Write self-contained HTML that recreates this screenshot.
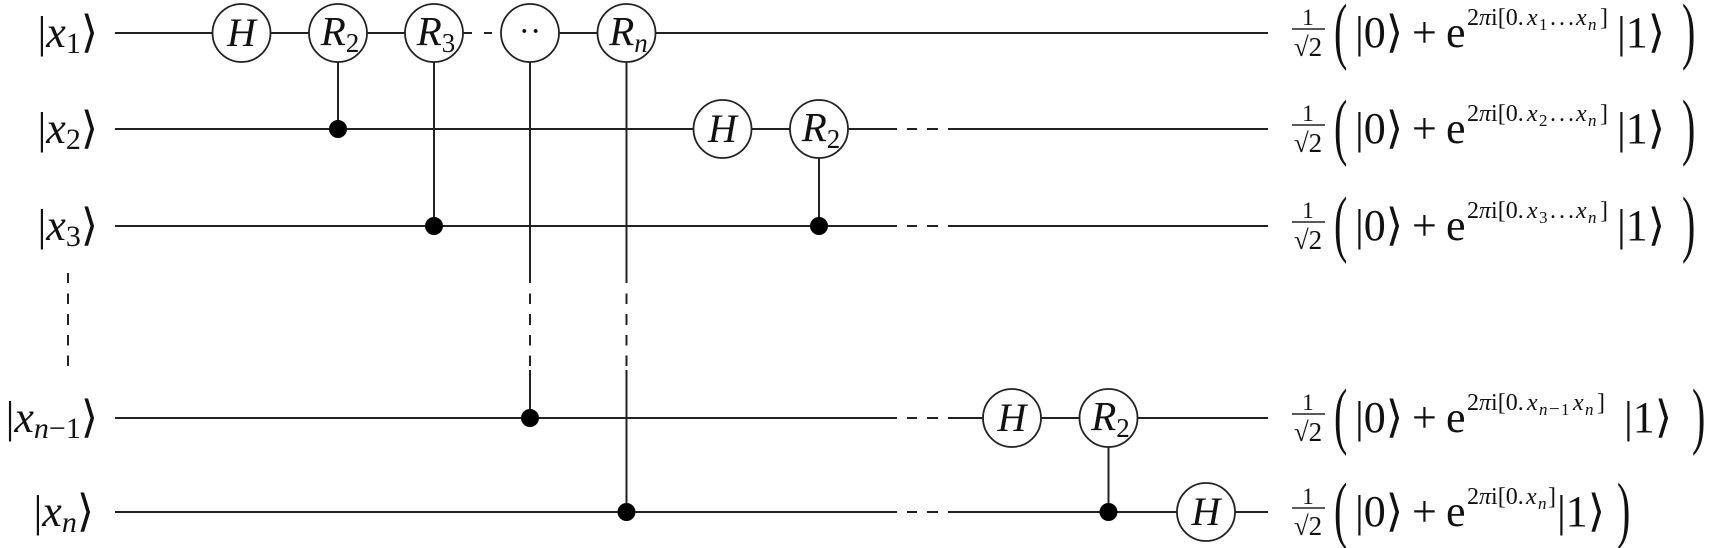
<!DOCTYPE html>
<html>
<head>
<meta charset="utf-8">
<style>
  html,body{margin:0;padding:0;background:#fff;}
  svg{display:block;}
  text{font-family:"Liberation Serif","DejaVu Serif",serif;fill:#111;}
  .ang{font-family:"DejaVu Sans","DejaVu Serif",serif;}
  .it{font-style:italic;}
</style>
</head>
<body>
<svg width="1724" height="548" viewBox="0 0 1724 548" xmlns="http://www.w3.org/2000/svg">
  <g stroke="#222" stroke-width="2" fill="none">
    <!-- row 1 wire -->
    <line x1="115" y1="33" x2="472" y2="33"/>
    <line x1="484" y1="33" x2="492" y2="33"/>
    <line x1="501" y1="33" x2="1268" y2="33"/>
    <!-- rows 2,3,n-1,n wires with dashed gap -->
    <line x1="115" y1="129" x2="897" y2="129"/><line x1="907" y1="129" x2="917" y2="129"/><line x1="927" y1="129" x2="938" y2="129"/><line x1="948" y1="129" x2="1268" y2="129"/>
    <line x1="115" y1="226" x2="897" y2="226"/><line x1="907" y1="226" x2="917" y2="226"/><line x1="927" y1="226" x2="938" y2="226"/><line x1="948" y1="226" x2="1268" y2="226"/>
    <line x1="115" y1="418" x2="897" y2="418"/><line x1="907" y1="418" x2="917" y2="418"/><line x1="927" y1="418" x2="938" y2="418"/><line x1="948" y1="418" x2="1268" y2="418"/>
    <line x1="115" y1="512" x2="897" y2="512"/><line x1="907" y1="512" x2="917" y2="512"/><line x1="927" y1="512" x2="938" y2="512"/><line x1="948" y1="512" x2="1268" y2="512"/>

    <!-- vertical control lines -->
    <line x1="338" y1="33" x2="338" y2="129"/>
    <line x1="434" y1="33" x2="434" y2="226"/>
    <line x1="819" y1="129" x2="819" y2="226"/>
    <line x1="1108.5" y1="418" x2="1108.5" y2="512"/>
    <!-- c3 (dots gate) -->
    <line x1="530" y1="33" x2="530" y2="283"/>
    <line x1="530" y1="293.5" x2="530" y2="304"/>
    <line x1="530" y1="314" x2="530" y2="325"/>
    <line x1="530" y1="335" x2="530" y2="345.5"/>
    <line x1="530" y1="355.5" x2="530" y2="366"/>
    <line x1="530" y1="370" x2="530" y2="418"/>
    <!-- c4 (Rn) -->
    <line x1="626.5" y1="33" x2="626.5" y2="283"/>
    <line x1="626.5" y1="293.5" x2="626.5" y2="304"/>
    <line x1="626.5" y1="314" x2="626.5" y2="325"/>
    <line x1="626.5" y1="335" x2="626.5" y2="345.5"/>
    <line x1="626.5" y1="355.5" x2="626.5" y2="366"/>
    <line x1="626.5" y1="370" x2="626.5" y2="512"/>
    <!-- left vertical dots -->
    <line x1="68" y1="273" x2="68" y2="283"/>
    <line x1="68" y1="293.5" x2="68" y2="304"/>
    <line x1="68" y1="314" x2="68" y2="325"/>
    <line x1="68" y1="335" x2="68" y2="345.5"/>
    <line x1="68" y1="355.5" x2="68" y2="366"/>

    <!-- output fraction bars -->
    <line x1="1292" y1="29" x2="1325" y2="29" stroke-width="1.4"/>
    <line x1="1292" y1="125" x2="1325" y2="125" stroke-width="1.4"/>
    <line x1="1292" y1="222" x2="1325" y2="222" stroke-width="1.4"/>
    <line x1="1292" y1="414" x2="1325" y2="414" stroke-width="1.4"/>
    <line x1="1292" y1="508" x2="1325" y2="508" stroke-width="1.4"/>
  </g>

  <!-- control dots -->
  <g fill="#000">
    <circle cx="338" cy="129" r="9"/>
    <circle cx="434" cy="226" r="9"/>
    <circle cx="530" cy="418" r="9"/>
    <circle cx="626.5" cy="512" r="9"/>
    <circle cx="819" cy="226" r="9"/>
    <circle cx="1108.5" cy="512" r="9"/>
  </g>

  <!-- gate circles -->
  <g fill="#fff" stroke="#222" stroke-width="1.8">
    <circle cx="241.5" cy="33" r="29"/>
    <circle cx="338" cy="33" r="29"/>
    <circle cx="434" cy="33" r="29"/>
    <circle cx="530" cy="33" r="29"/>
    <circle cx="626.5" cy="33" r="29"/>
    <circle cx="722.5" cy="129" r="29"/>
    <circle cx="819" cy="129" r="29"/>
    <circle cx="1012" cy="418" r="29"/>
    <circle cx="1108.5" cy="418" r="29"/>
    <circle cx="1206" cy="512" r="29"/>
  </g>

  <!-- gate labels -->
  <text x="241.5" y="46" font-size="40" text-anchor="middle" class="it">H</text>
  <text x="340" y="45" font-size="41" text-anchor="middle"><tspan class="it">R</tspan><tspan font-size="27" dy="7">2</tspan></text>
  <text x="436" y="45" font-size="41" text-anchor="middle"><tspan class="it">R</tspan><tspan font-size="27" dy="7">3</tspan></text>
  <text x="530" y="42" font-size="34" text-anchor="middle">··</text>
  <text x="628.5" y="45" font-size="41" text-anchor="middle"><tspan class="it">R</tspan><tspan font-size="27" dy="7" class="it">n</tspan></text>
  <text x="722.5" y="142" font-size="40" text-anchor="middle" class="it">H</text>
  <text x="821" y="141" font-size="41" text-anchor="middle"><tspan class="it">R</tspan><tspan font-size="27" dy="7">2</tspan></text>
  <text x="1012" y="431" font-size="40" text-anchor="middle" class="it">H</text>
  <text x="1110.5" y="430" font-size="41" text-anchor="middle"><tspan class="it">R</tspan><tspan font-size="27" dy="7">2</tspan></text>
  <text x="1206" y="525" font-size="40" text-anchor="middle" class="it">H</text>

  <!-- input kets -->
  <text x="98" y="47" font-size="44" text-anchor="end">|<tspan class="it">x</tspan><tspan font-size="30" dy="6">1</tspan><tspan dy="-6" class="ang">⟩</tspan></text>
  <text x="98" y="143" font-size="44" text-anchor="end">|<tspan class="it">x</tspan><tspan font-size="30" dy="6">2</tspan><tspan dy="-6" class="ang">⟩</tspan></text>
  <text x="98" y="240" font-size="44" text-anchor="end">|<tspan class="it">x</tspan><tspan font-size="30" dy="6">3</tspan><tspan dy="-6" class="ang">⟩</tspan></text>
  <text x="98" y="432" font-size="44" text-anchor="end">|<tspan class="it">x</tspan><tspan font-size="30" dy="6" class="it">n</tspan><tspan font-size="30">−</tspan><tspan font-size="30">1</tspan><tspan dy="-6" class="ang">⟩</tspan></text>
  <text x="94" y="526" font-size="44" text-anchor="end">|<tspan class="it">x</tspan><tspan font-size="30" dy="6" class="it">n</tspan><tspan dy="-6" class="ang">⟩</tspan></text>

  <!-- outputs: row 1 (Y=33) -->
  <g>
    <text x="1308" y="25" font-size="23" text-anchor="middle">1</text>
    <text x="1308" y="56" font-size="27" text-anchor="middle">√2</text>
    <text transform="translate(1334,55) scale(1,1.85)" font-size="40">(</text>
    <text x="1355" y="47" font-size="44">|0<tspan class="ang">⟩</tspan></text>
    <text x="1412" y="47" font-size="44">+</text>
    <text x="1446" y="47" font-size="44">e</text>
    <text x="1467" y="25" font-size="24">2<tspan class="it">π</tspan>i[0.</text>
    <text x="1527" y="25" font-size="24" class="it">x</text>
    <text x="1539" y="30" font-size="17">1</text>
    <text x="1550" y="25" font-size="24" letter-spacing="3">...</text>
    <text x="1576" y="25" font-size="24" class="it">x</text>
    <text x="1588" y="30" font-size="17" class="it">n</text>
    <text x="1600" y="25" font-size="24">]</text>
    <text x="1617" y="47" font-size="44">|1<tspan class="ang">⟩</tspan></text>
    <text transform="translate(1682,55) scale(1,1.85)" font-size="40">)</text>
  </g>
  <!-- row 2 (Y=129) -->
  <g>
    <text x="1308" y="121" font-size="23" text-anchor="middle">1</text>
    <text x="1308" y="152" font-size="27" text-anchor="middle">√2</text>
    <text transform="translate(1334,151) scale(1,1.85)" font-size="40">(</text>
    <text x="1355" y="143" font-size="44">|0<tspan class="ang">⟩</tspan></text>
    <text x="1412" y="143" font-size="44">+</text>
    <text x="1446" y="143" font-size="44">e</text>
    <text x="1467" y="121" font-size="24">2<tspan class="it">π</tspan>i[0.</text>
    <text x="1527" y="121" font-size="24" class="it">x</text>
    <text x="1539" y="126" font-size="17">2</text>
    <text x="1550" y="121" font-size="24" letter-spacing="3">...</text>
    <text x="1576" y="121" font-size="24" class="it">x</text>
    <text x="1588" y="126" font-size="17" class="it">n</text>
    <text x="1600" y="121" font-size="24">]</text>
    <text x="1617" y="143" font-size="44">|1<tspan class="ang">⟩</tspan></text>
    <text transform="translate(1682,151) scale(1,1.85)" font-size="40">)</text>
  </g>
  <!-- row 3 (Y=226) -->
  <g>
    <text x="1308" y="218" font-size="23" text-anchor="middle">1</text>
    <text x="1308" y="249" font-size="27" text-anchor="middle">√2</text>
    <text transform="translate(1334,248) scale(1,1.85)" font-size="40">(</text>
    <text x="1355" y="240" font-size="44">|0<tspan class="ang">⟩</tspan></text>
    <text x="1412" y="240" font-size="44">+</text>
    <text x="1446" y="240" font-size="44">e</text>
    <text x="1467" y="218" font-size="24">2<tspan class="it">π</tspan>i[0.</text>
    <text x="1527" y="218" font-size="24" class="it">x</text>
    <text x="1539" y="223" font-size="17">3</text>
    <text x="1550" y="218" font-size="24" letter-spacing="3">...</text>
    <text x="1576" y="218" font-size="24" class="it">x</text>
    <text x="1588" y="223" font-size="17" class="it">n</text>
    <text x="1600" y="218" font-size="24">]</text>
    <text x="1617" y="240" font-size="44">|1<tspan class="ang">⟩</tspan></text>
    <text transform="translate(1682,248) scale(1,1.85)" font-size="40">)</text>
  </g>
  <!-- row n-1 (Y=418) -->
  <g>
    <text x="1308" y="410" font-size="23" text-anchor="middle">1</text>
    <text x="1308" y="441" font-size="27" text-anchor="middle">√2</text>
    <text transform="translate(1334,440) scale(1,1.85)" font-size="40">(</text>
    <text x="1355" y="432" font-size="44">|0<tspan class="ang">⟩</tspan></text>
    <text x="1412" y="432" font-size="44">+</text>
    <text x="1446" y="432" font-size="44">e</text>
    <text x="1467" y="410" font-size="24">2<tspan class="it">π</tspan>i[0.</text>
    <text x="1527" y="410" font-size="24" class="it">x</text>
    <text x="1539" y="415" font-size="17" class="it">n</text>
    <text x="1549" y="415" font-size="19">−</text>
    <text x="1561" y="415" font-size="17">1</text>
    <text x="1573" y="410" font-size="24" class="it">x</text>
    <text x="1585" y="415" font-size="17" class="it">n</text>
    <text x="1597" y="410" font-size="24">]</text>
    <text x="1624" y="432" font-size="44">|1<tspan class="ang">⟩</tspan></text>
    <text transform="translate(1692,440) scale(1,1.85)" font-size="40">)</text>
  </g>
  <!-- row n (Y=512) -->
  <g>
    <text x="1308" y="504" font-size="23" text-anchor="middle">1</text>
    <text x="1308" y="535" font-size="27" text-anchor="middle">√2</text>
    <text transform="translate(1334,534) scale(1,1.85)" font-size="40">(</text>
    <text x="1355" y="526" font-size="44">|0<tspan class="ang">⟩</tspan></text>
    <text x="1412" y="526" font-size="44">+</text>
    <text x="1446" y="526" font-size="44">e</text>
    <text x="1467" y="504" font-size="24">2<tspan class="it">π</tspan>i[0.</text>
    <text x="1526" y="504" font-size="24" class="it">x</text>
    <text x="1538" y="509" font-size="17" class="it">n</text>
    <text x="1548" y="504" font-size="24">]</text>
    <text x="1557" y="526" font-size="44">|1<tspan class="ang">⟩</tspan></text>
    <text transform="translate(1617,534) scale(1,1.85)" font-size="40">)</text>
  </g>
</svg>
</body>
</html>
